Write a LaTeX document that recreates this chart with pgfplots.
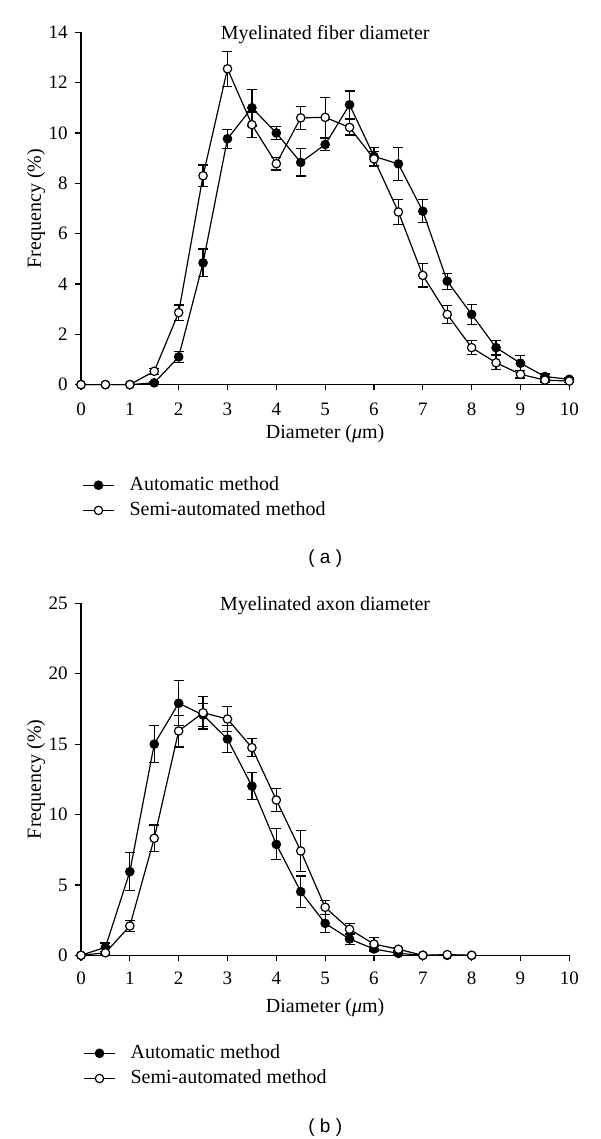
\documentclass[border=0pt]{standalone}
\usepackage{fontspec}
\setmainfont{Liberation Serif}
\newfontfamily\capfont{Liberation Sans}
\usepackage{pgfplots}
\usepackage{pgfplotstable}
\pgfplotsset{compat=1.18}

\pgfplotstableread{
x y e
0 0 0
0.5 0 0
1 0 0
1.5 0.07 0.05
2 1.10 0.22
2.5 4.84 0.55
3 9.77 0.38
3.5 11.00 0.72
4 10.00 0.27
4.5 8.83 0.54
5 9.54 0.25
5.5 11.12 0.55
6 9.07 0.35
6.5 8.77 0.65
7 6.89 0.46
7.5 4.11 0.32
8 2.79 0.40
8.5 1.47 0.27
9 0.85 0.30
9.5 0.32 0.10
10 0.21 0.06
}\fiberauto

\pgfplotstableread{
x y e
0 0 0
0.5 0 0
1 0 0
1.5 0.53 0.12
2 2.86 0.30
2.5 8.30 0.43
3 12.55 0.70
3.5 10.33 0.50
4 8.78 0.25
4.5 10.60 0.46
5 10.62 0.79
5.5 10.22 0.30
6 8.97 0.30
6.5 6.86 0.49
7 4.34 0.46
7.5 2.79 0.35
8 1.47 0.27
8.5 0.87 0.28
9 0.41 0.15
9.5 0.18 0.08
10 0.14 0.05
}\fibersemi

\pgfplotstableread{
x y e
0 0 0
0.5 0.57 0.30
1 5.94 1.35
1.5 15.00 1.30
2 17.90 1.60
2.5 17.07 0.80
3 15.36 0.97
3.5 12.02 0.97
4 7.88 1.10
4.5 4.52 1.12
5 2.27 0.65
5.5 1.16 0.40
6 0.45 0.20
6.5 0.14 0.10
7 0 0
7.5 0 0
8 0 0
}\axonauto

\pgfplotstableread{
x y e
0 0 0
0.5 0.18 0.10
1 2.08 0.40
1.5 8.31 0.95
2 15.93 1.13
2.5 17.23 1.15
3 16.78 0.90
3.5 14.75 0.63
4 11.03 0.83
4.5 7.41 1.48
5 3.41 0.50
5.5 1.85 0.40
6 0.80 0.45
6.5 0.43 0.10
7 0 0
7.5 0.05 0
8 0 0
}\axonsemi

\pgfplotsset{
  mystyle/.style={
    scale only axis,
    width=244.15pt,
    xmin=0, xmax=10, ymin=0,
    axis x line=bottom, axis y line=left,
    axis line style={black, line width=0.6pt, -},
    tick align=outside,
    major tick length=2.8pt,
    tick style={black, line width=0.6pt},
    xtick={0,1,...,10},
    clip=false,
    /pgf/number format/assume math mode=true,
    tick label style={font=\fontsize{9.5}{11}\selectfont, inner sep=0pt},
    xticklabel style={anchor=center},
    yticklabel style={anchor=east},
    label style={font=\fontsize{10}{12}\selectfont},
    every axis title/.style={font=\fontsize{10}{12}\selectfont, at={(axis description cs:0.5,1)}, anchor=base, yshift=-3.4pt},
    xlabel={Diameter ({\itshape μ}m)},
    ylabel={Frequency (\%)},
    ylabel style={at={([xshift=-22.5pt]axis description cs:0,0.5)}, anchor=center, rotate=0},
    legend cell align=left,
    legend image code/.code={\draw[mark repeat=2,mark phase=2,##1] plot coordinates {(0pt,0pt) (7.75pt,0pt) (15.5pt,0pt)};},
    legend style={draw=none, fill=none, inner sep=0pt, column sep=7.5pt, row sep=3.4pt,
      font=\fontsize{10}{12}\selectfont,
      nodes={inner sep=0pt, text height=7pt, text depth=2.2pt},
      at={(axis description cs:0,0)}, anchor=west},
  },
  autoplot/.style={black, line width=0.6pt, mark=*, mark size=2.1pt,
    mark options={fill=black, line width=0.6pt},
    error bars/.cd, y dir=both, y explicit,
    error bar style={line width=0.6pt, black},
    error mark options={rotate=90, mark size=2.5pt, line width=0.6pt, black}},
  semiplot/.style={black, line width=0.6pt, mark=*, mark size=2.1pt,
    mark options={fill=white, line width=0.6pt},
    error bars/.cd, y dir=both, y explicit,
    error bar style={line width=0.6pt, black},
    error mark options={rotate=90, mark size=2.5pt, line width=0.6pt, black}},
}

\begin{document}
\begin{tikzpicture}
\path[use as bounding box] (0pt,0pt) rectangle (300pt,-569.5pt);

\begin{axis}[mystyle,
  at={(40.5pt,-192.3pt)}, anchor=south west,
  height=176.15pt,
  ymax=14, ytick={0,2,...,14},
  title={Myelinated fiber diameter},
  xticklabel style={yshift=-9.6pt},
  yticklabel style={xshift=-3.7pt},
  xlabel style={at={([yshift=-24.4pt]axis description cs:0.5,0)}, anchor=center},
  legend style={xshift=0.5pt, yshift=-56.6pt},
]
\addplot[autoplot] table[x=x, y=y, y error=e] {\fiberauto};
\addlegendentry{Automatic method}
\addplot[semiplot] table[x=x, y=y, y error=e] {\fibersemi};
\addlegendentry{Semi-automated method}
\end{axis}

\node[font=\capfont\fontsize{9.5}{11}\selectfont] at (162.6pt,-279.3pt) {( a )};

\begin{axis}[mystyle,
  at={(40.5pt,-477.65pt)}, anchor=south west,
  height=176pt,
  ymax=25, ytick={0,5,...,25},
  title={Myelinated axon diameter},
  xticklabel style={yshift=-8.6pt},
  yticklabel style={xshift=-3.7pt},
  xlabel style={at={([yshift=-26.3pt]axis description cs:0.5,0)}, anchor=center},
  legend style={xshift=1pt, yshift=-55.3pt},
]
\addplot[autoplot] table[x=x, y=y, y error=e] {\axonauto};
\addlegendentry{Automatic method}
\addplot[semiplot] table[x=x, y=y, y error=e] {\axonsemi};
\addlegendentry{Semi-automated method}
\end{axis}

\node[font=\capfont\fontsize{9.5}{11}\selectfont] at (162.6pt,-564pt) {( b )};
\end{tikzpicture}
\end{document}
